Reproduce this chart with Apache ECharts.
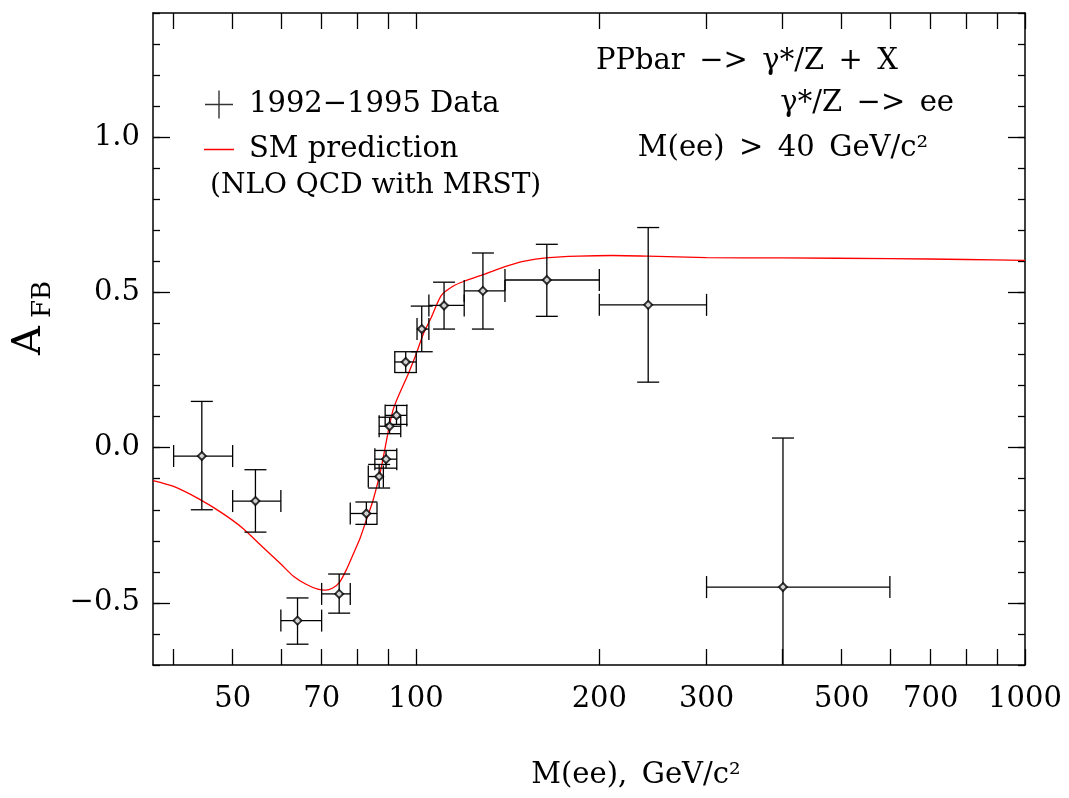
<!DOCTYPE html>
<html>
<head>
<meta charset="utf-8">
<script src="https://cdn.jsdelivr.net/npm/echarts@6/dist/echarts.min.js"></script>
<style>
html, body { margin: 0; padding: 0; background: #fff; }
#chart { width: 1069px; height: 798px; }
</style>
</head>
<body>
<div id="chart"></div>
<script>
// 测量点: M(ee) 中心值, 横向误差范围, A_FB 及纵向误差范围
const mass    = [44.5, 54.5, 63.9, 74.8, 82.9, 87.0, 89.3, 90.5, 92.9, 96.2, 102.2, 111.2, 128.8, 164, 240.6, 400.5];
const massLo  = [40, 50, 60, 70, 78, 83.5, 85.6, 87, 89, 92.3, 100.4, 105, 120, 140, 200, 300];
const massHi  = [50, 60, 70, 78, 86.3, 88.4, 93, 94.4, 96.6, 100.1, 105, 120, 140, 200, 300, 600];
const afb     = [-0.027, -0.172, -0.557, -0.471, -0.212, -0.093, -0.037, 0.069, 0.104, 0.276, 0.382, 0.458, 0.505, 0.54, 0.46, -0.449];
const afbLo   = [-0.2, -0.272, -0.633, -0.533, -0.247, -0.13, -0.066, 0.045, 0.075, 0.242, 0.309, 0.382, 0.382, 0.423, 0.211, -0.93];
const afbHi   = [0.149, -0.071, -0.484, -0.407, -0.175, -0.054, -0.009, 0.098, 0.136, 0.309, 0.456, 0.533, 0.627, 0.655, 0.709, 0.031];

// SM 理论曲线
const curveMass = [37, 40, 44, 48, 52, 56, 60, 63, 66, 69, 71, 73, 75, 77, 79, 81, 83, 85, 87, 88, 89, 90, 91, 92, 94, 97, 100, 103, 106, 110, 115, 120, 130, 140, 150, 165, 185, 210, 240, 300, 400, 600, 800, 1000];
const curveAfb  = [-0.106, -0.125, -0.165, -0.21, -0.26, -0.32, -0.375, -0.415, -0.44, -0.456, -0.459, -0.452, -0.432, -0.39, -0.34, -0.29, -0.23, -0.17, -0.095, -0.05, 0.0, 0.05, 0.095, 0.13, 0.175, 0.235, 0.30, 0.37, 0.42, 0.49, 0.52, 0.536, 0.56, 0.583, 0.60, 0.612, 0.617, 0.619, 0.617, 0.612, 0.611, 0.609, 0.606, 0.603];

// 刻度
const xTicks  = [40, 50, 60, 70, 80, 90, 100, 200, 300, 400, 500, 600, 700, 800, 900, 1000];
const xLabels = [50, 70, 100, 200, 300, 500, 700, 1000];
const yMajor  = [-0.5, 0, 0.5, 1.0];

const FONT = 'DejaVu Serif';
const BLACK = '#000';
const SP = '\u2002';   // 加宽的空格
const DATA_NAME = '1992\u22121995 Data';
const SM_NAME = 'SM prediction';

// x 轴 (上下两条)
function makeXAxis(pos, withLabel) {
    return {
        type: 'log', logBase: 10, min: 37, max: 1000, position: pos,
        axisLine: { show: true, onZero: false, lineStyle: { color: BLACK, width: 1.5 } },
        axisTick: { show: true, inside: true, length: 16, customValues: xTicks, lineStyle: { color: BLACK, width: 1.3 } },
        axisLabel: withLabel ? {
            show: true, customValues: xLabels, margin: 20,
            fontFamily: FONT, fontSize: 29, color: BLACK,
            formatter: function(v) { return String(v); }
        } : { show: false },
        splitLine: { show: false },
        minorTick: { show: false }
    };
}

// y 轴: 大刻度 / 小刻度 各一条
function makeYAxis(pos, major, withLabel) {
    const axis = {
        type: 'value', min: -0.7, max: 1.4, position: pos,
        axisLine: { show: major, onZero: false, lineStyle: { color: BLACK, width: 1.5 } },
        splitLine: { show: false },
        axisLabel: { show: false }
    };
    if (major) {
        axis.axisTick = { show: true, inside: true, length: 17, customValues: yMajor, lineStyle: { color: BLACK, width: 1.3 } };
    } else {
        axis.interval = 0.1;
        axis.axisTick = { show: true, inside: true, length: 7, lineStyle: { color: BLACK, width: 1.3 } };
    }
    if (withLabel) {
        axis.axisLabel = {
            show: true, customValues: yMajor, margin: 13,
            fontFamily: FONT, fontSize: 29, color: BLACK,
            formatter: function(v) {
                const s = Math.abs(v).toFixed(1);
                return v < -1e-9 ? '\u2212' + s : s;
            }
        };
    }
    return axis;
}

// 误差棒
function renderError(params, api) {
    const cs = params.coordSys;
    const top = cs.y, bottom = cs.y + cs.height;
    const x = api.value(0), y = api.value(1);
    const l = api.coord([api.value(2), y]);
    const r = api.coord([api.value(3), y]);
    const hi = api.coord([x, api.value(5)]);
    const lo = api.coord([x, api.value(4)]);
    const cap = 11;
    const style = { stroke: BLACK, lineWidth: 1.3 };
    const lines = [];
    function seg(x1, y1, x2, y2) {
        lines.push({ type: 'line', shape: { x1: x1, y1: y1, x2: x2, y2: y2 }, style: style });
    }
    const yTop = Math.max(hi[1], top), yBot = Math.min(lo[1], bottom);
    seg(l[0], l[1], r[0], r[1]);
    seg(l[0], l[1] - cap, l[0], l[1] + cap);
    seg(r[0], r[1] - cap, r[0], r[1] + cap);
    seg(hi[0], yTop, lo[0], yBot);
    if (hi[1] >= top) seg(hi[0] - cap, hi[1], hi[0] + cap, hi[1]);
    if (lo[1] <= bottom) seg(lo[0] - cap, lo[1], lo[0] + cap, lo[1]);
    return { type: 'group', children: lines };
}

const points = mass.map(function(m, i) { return [m, afb[i]]; });
const errors = mass.map(function(m, i) { return [m, afb[i], massLo[i], massHi[i], afbLo[i], afbHi[i]]; });
const curve  = curveMass.map(function(m, i) { return [m, curveAfb[i]]; });

function label(text, x, y, align, size) {
    return {
        type: 'text', x: x, y: y, silent: true,
        style: { text: text, font: (size || 29) + 'px "' + FONT + '"', fill: BLACK, textAlign: align || 'left', textVerticalAlign: 'middle' }
    };
}

const chart = echarts.init(document.getElementById('chart'));
chart.setOption({
    animation: false,
    backgroundColor: '#fff',
    grid: { left: 153, right: 44, top: 13, bottom: 133 },
    xAxis: [makeXAxis('bottom', true), makeXAxis('top', false)],
    yAxis: [makeYAxis('left', true, true), makeYAxis('left', false, false), makeYAxis('right', true, false), makeYAxis('right', false, false)],
    legend: {
        left: 204, top: 90, orient: 'vertical', padding: 0,
        itemWidth: 30, itemHeight: 28, itemGap: 16,
        selectedMode: false,
        textStyle: { fontFamily: FONT, fontSize: 29, color: BLACK, padding: [0, 0, 0, 10] },
        data: [
            { name: DATA_NAME, icon: 'path://M0,13.3H28V14.7H0ZM13.3,0H14.7V28H13.3Z', itemStyle: { color: BLACK, borderWidth: 0 } },
            { name: SM_NAME, icon: 'path://M0,0H0.01V0.01H0ZM0,13.3H30V14.7H0ZM0,27.99H0.01V28H0Z', itemStyle: { color: '#ff0000', borderWidth: 0 } }
        ]
    },
    graphic: [
        label('(NLO QCD with MRST)', 210, 186, 'left', 28),
        label('PPbar' + SP + '\u2212>' + SP + '\u03b3*/Z' + SP + '+' + SP + 'X', 747, 61, 'center'),
        label('\u03b3*/Z' + SP + '\u2212>' + SP + 'ee', 954, 103, 'right'),
        label('M(ee)' + SP + '>' + SP + '40' + SP + 'GeV/c\u00b2', 783, 148, 'center'),
        label('M(ee),' + SP + 'GeV/c\u00b2', 636, 775, 'center'),
        {
            type: 'text', x: 50, y: 355, rotation: Math.PI / 2, silent: true,
            style: { text: 'A', font: '40px "' + FONT + '"', fill: BLACK, textAlign: 'left', textVerticalAlign: 'bottom' }
        },
        {
            type: 'text', x: 56, y: 318, rotation: Math.PI / 2, silent: true,
            style: { text: 'FB', font: '26px "' + FONT + '"', fill: BLACK, textAlign: 'left', textVerticalAlign: 'bottom' }
        }
    ],
    series: [
        {
            name: SM_NAME, type: 'line', data: curve,
            symbol: 'none', smooth: 0.25, color: '#ff0000',
            lineStyle: { color: '#ff0000', width: 1.3 }, z: 3
        },
        {
            type: 'custom', data: errors, renderItem: renderError, clip: true, silent: true,
            encode: { x: [0, 2, 3], y: [1, 4, 5] }, z: 4
        },
        {
            name: DATA_NAME, type: 'scatter', data: points,
            symbol: 'emptyDiamond', symbolSize: 8,
            itemStyle: { color: BLACK, borderColor: BLACK, borderWidth: 1.2 }, z: 5
        }
    ]
});
</script>
</body>
</html>
